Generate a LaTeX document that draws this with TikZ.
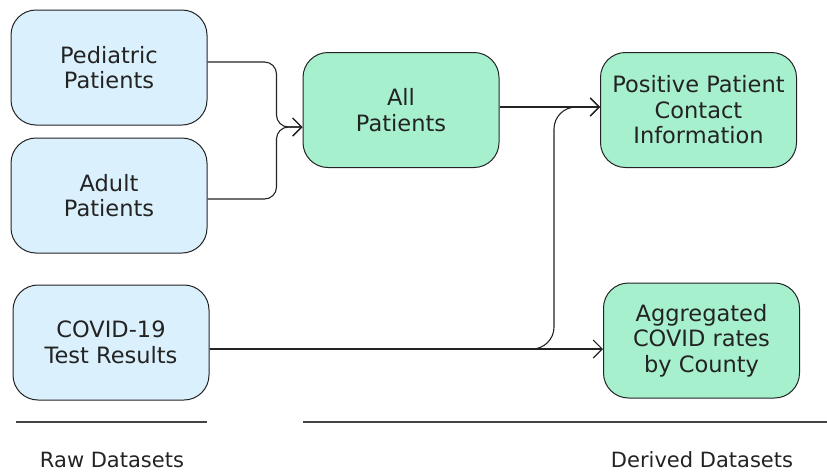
\documentclass[tikz,border=0pt]{standalone}
\usepackage{fontspec}
\setmainfont{DejaVu Sans}
\usetikzlibrary{calc,arrows.meta}
\definecolor{rawfill}{RGB}{219,240,253}
\definecolor{derfill}{RGB}{167,240,205}
\definecolor{ink}{RGB}{35,35,35}
\tikzset{
  box/.style={draw=ink, line width=1pt, rounded corners=25pt, minimum width=196pt, minimum height=115pt, align=center, text=ink, inner sep=0pt, font=\fontsize{22.5}{25.5}\selectfont},
  rawbox/.style={box, fill=rawfill},
  derbox/.style={box, fill=derfill},
  conn/.style={draw=ink, line width=1.1pt, rounded corners=12pt, -{Straight Barb[length=9pt,width=18pt,line width=1.1pt]}},
  sepline/.style={draw=ink!85, line width=1.1pt},
  caption/.style={text=ink, font=\fontsize{21}{24}\selectfont}
}
\begin{document}
\begin{tikzpicture}[x=1pt,y=-1pt]
\useasboundingbox (0,0) rectangle (827,475);
\node[rawbox] (ped) at (109,67.5) {Pediatric\\Patients};
\node[rawbox] (adult) at (109,195.5) {Adult\\Patients};
\node[rawbox] (cov) at (111,342.5) {COVID-19\\Test Results};
\node[derbox] (all) at (401,110) {All\\Patients};
\node[derbox] (pos) at (698.5,110) {Positive Patient\\Contact\\Information};
\node[derbox] (agg) at (701.5,340.5) {Aggregated\\COVID rates\\by County};

\draw[conn] ($(ped.east)+(0,-5.5)$) -| ($(all.west)+(-26,17)$) -- ($(all.west)+(0,17)$);
\draw[conn] ($(adult.east)+(0,3.5)$) -| ($(all.west)+(-26,17)$) -- ($(all.west)+(0,17)$);
\draw[conn] ($(all.east)+(0,-3)$) -- ($(pos.west)+(0,-3)$);
\draw[conn] ($(cov.east)+(0,6.5)$) -- ($(agg.west)+(0,8.5)$);
\draw[conn, rounded corners=22pt] ($(cov.east)+(0,6.5)$) -| ($(pos.west)+(-46,-3)$) -- ($(pos.west)+(0,-3)$);

\coordinate (r1) at (16,422);
\coordinate (r2) at (207,422);
\coordinate (d1) at (303,422);
\coordinate (d2) at (827,422);
\draw[sepline] (r1) -- (r2);
\draw[sepline] (d1) -- (d2);
\node[caption] (rawlab) at (112,460) {Raw Datasets};
\node[caption] (derlab) at (702,460) {Derived Datasets};
\end{tikzpicture}
\end{document}
